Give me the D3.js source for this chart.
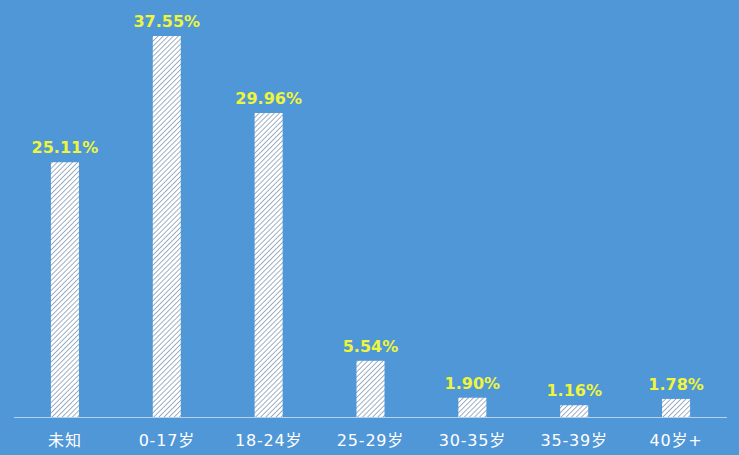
<!DOCTYPE html>
<html><head><meta charset="utf-8">
<script src="https://cdn.jsdelivr.net/npm/d3@7/dist/d3.min.js"></script>
<style>html,body{margin:0;padding:0;background:#4f97d7;}svg{display:block;}</style>
</head><body><svg id="c" width="739" height="455"></svg>
<script>
const categories = ["未知","0-17岁","18-24岁","25-29岁","30-35岁","35-39岁","40岁+"];
const values = [25.11, 37.55, 29.96, 5.54, 1.90, 1.16, 1.78];
const valueLabels = ["25.11%","37.55%","29.96%","5.54%","1.90%","1.16%","1.78%"];

const W = 739, H = 455;
const svg = d3.select("#c");
svg.append("rect").attr("width", W).attr("height", H).attr("fill", "#4f97d7");

const defs = svg.append("defs");
const pat = defs.append("pattern").attr("id","hatch").attr("patternUnits","userSpaceOnUse")
  .attr("width",3.6).attr("height",3.6).attr("patternTransform","rotate(45)");
pat.append("rect").attr("width",3.6).attr("height",3.6).attr("fill","#ffffff");
pat.append("line").attr("x1",0).attr("y1",0).attr("x2",0).attr("y2",3.6)
  .attr("stroke","#4f6f93").attr("stroke-width",1.1);

const x = d3.scaleBand().domain(categories).range([14, 727]).paddingInner(0.725).paddingOuter(0.3625);
const y = d3.scaleLinear().domain([0, 37.55]).range([417, 36]);

svg.selectAll("rect.bar").data(values).join("rect").attr("class","bar")
  .attr("x", (d,i) => x(categories[i]))
  .attr("width", x.bandwidth())
  .attr("y", d => y(d))
  .attr("height", d => y(0) - y(d))
  .attr("fill", "url(#hatch)");

svg.append("line").attr("x1",14).attr("x2",727).attr("y1",417.5).attr("y2",417.5)
  .attr("stroke","#b5d3ef").attr("stroke-width",1);

svg.selectAll("text.val").data(values).join("text").attr("class","val")
  .attr("x", (d,i) => x(categories[i]) + x.bandwidth()/2)
  .attr("y", d => y(d) - 9)
  .attr("text-anchor","middle")
  .attr("fill","#eef53c")
  .attr("font-family","'DejaVu Sans', sans-serif")
  .attr("font-weight","bold")
  .attr("font-size","16px")
  .text((d,i) => valueLabels[i]);

svg.selectAll("text.cat").data(categories).join("text").attr("class","cat")
  .attr("x", d => x(d) + x.bandwidth()/2)
  .attr("y", 446)
  .attr("text-anchor","middle")
  .attr("fill","#ffffff")
  .attr("font-family","'DejaVu Sans', 'Noto Sans CJK SC', sans-serif")
  .attr("font-size","16px")
  .attr("letter-spacing","0.8px")
  .text(d => d);
</script></body></html>
